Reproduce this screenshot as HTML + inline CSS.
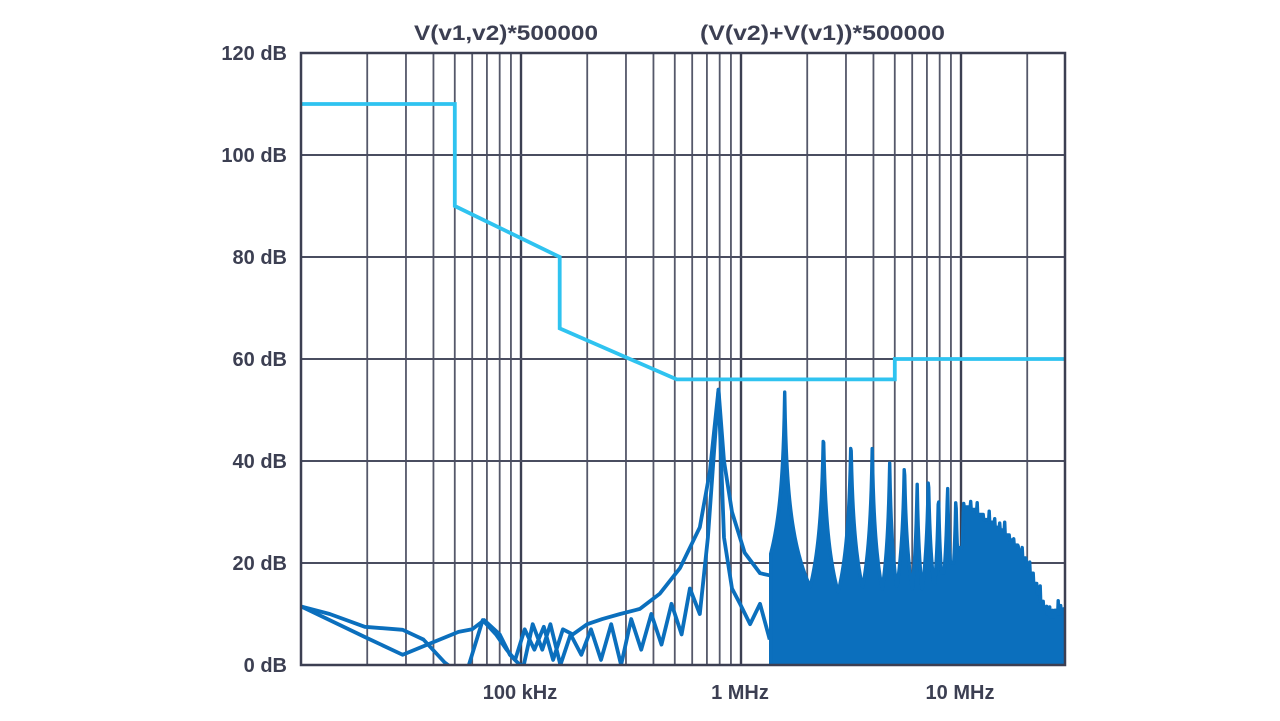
<!DOCTYPE html>
<html><head><meta charset="utf-8"><style>
html,body{margin:0;padding:0;background:#fff;}
svg{display:block;}
text{font-family:"Liberation Sans",sans-serif;font-weight:bold;fill:#3c3f52;}
</style></head><body>
<svg id="chart" width="1280" height="721" viewBox="0 0 1280 721" xmlns="http://www.w3.org/2000/svg">
<g id="grid"></g>
<g id="limit"></g>
<g id="traces"></g>
<rect x="301" y="53" width="764" height="612" fill="none" stroke="#3c3f52" stroke-width="2.5"/>
<g id="labels"></g>
<text x="414" y="40" font-size="21" textLength="184" lengthAdjust="spacingAndGlyphs">V(v1,v2)*500000</text>
<text x="700" y="40" font-size="21" textLength="245" lengthAdjust="spacingAndGlyphs">(V(v2)+V(v1))*500000</text>
</svg>
<script>
// ---- data ----
const yTicks = [0,20,40,60,80,100,120];
const yTickLabels = ["0 dB","20 dB","40 dB","60 dB","80 dB","100 dB","120 dB"];
const xTickFreqs = [100e3,1e6,10e6];
const xTickLabels = ["100 kHz","1 MHz","10 MHz"];
// limit mask (Hz, dB)
const limitFreqs = [10e3,50e3,50e3,150e3,150e3,510e3,5e6,5e6,30e6];
const limitDb    = [110,110,90,80,66,56,56,60,60];
// low-frequency trace A (Hz, dB)
const traceAFreqs = [10e3,13.5e3,19.5e3,29e3,36e3,45e3,50e3, 57e3,67e3,77e3,86e3,94e3,104e3,115e3,127e3,140e3,155e3,172e3,200e3,234e3,282e3,347e3,428e3,528e3,650e3,722e3,790e3,837e3,910e3,1.04e6,1.22e6,1.38e6,1.47e6];
const traceADb    = [11.5,10,7.5,6.9,5,0.5,-2, -2,8.8,6,3,1,7,3,7.5,1,7,6,8,9,10,11,14,19,27,38,54,40,30,22,18,17.5,22];
// low-frequency trace B
const traceBFreqs = [10e3,19.5e3,29e3,39e3,52e3,60e3,68e3,80e3,89e3,99e3,103e3,113e3,125e3,136e3,151e3,168e3,188e3,208e3,231e3,257e3,285e3,317e3,352e3,391e3,435e3,483e3,537e3,586e3,650e3,707e3,790e3,837e3,910e3,990e3,1.1e6,1.22e6,1.35e6];
const traceBDb    = [11.5,5.5,2,4.3,6.5,7,8.8,6,2,0,0,8,3,8,0,6,2,7,1,8,0,9,3,10,4,12,6,15,10,25,54,25,15,12,8,12,5];
// harmonic series: fundamental and peak amplitudes n=2..38
const fundamental = 0.79e6;
const harmonicPeaks = [53.5,46.5,45,43,40,40.5,36,38,34.5,36,34,33.5,33,32,31,30.5,29.5,29,28,27,26,25,24,22.5,21,19,17,15.5,14,13,12.5,12.5,13,13,13.5,13.5,13.5];
const noiseHigh = [11,12,12,12,13,14,15,16,18,20,23,31,30.5,29.5,28.5,28,27,26.5,25.5,24.5,23.5,22.5,21,19.5,18,16,14,12.5,11,10,9.5,9.5,10,10,10.5,10.5,10.5];

// ---- axes ----
const L=301,R=1065,T=53,B=665;
const fMin=10e3, pxPerDec=220;
const xs = f => L + pxPerDec*Math.log10(f/fMin);
const ys = d => B - (d/120)*(B-T);
const NS="http://www.w3.org/2000/svg";
function mk(tag, parent){const e=document.createElementNS(NS,tag);parent.appendChild(e);return e;}
const grid=document.getElementById('grid');
for(let dec=1e4; dec<=1e7; dec*=10){
  for(let m=1;m<=9;m++){
    const f=dec*m; const x=xs(f); if(x<=L+1||x>=R-1) continue;
    const ln=mk('line',grid);
    
    
    ln.setAttribute('x1',x);ln.setAttribute('x2',x);ln.setAttribute('y1',T);ln.setAttribute('y2',B);
    ln.setAttribute('stroke', m===1?'#3c3f52':'#55586a');ln.setAttribute('stroke-width', m===1?2.4:1.8);
  }
}
yTicks.forEach((d,i)=>{
  const y=ys(d);
  const ln=mk('line',grid);
  
  
  ln.setAttribute('x1',L);ln.setAttribute('x2',R);ln.setAttribute('y1',y);ln.setAttribute('y2',y);
  ln.setAttribute('stroke','#4a4d60');ln.setAttribute('stroke-width',2);
  const t=mk('text',document.getElementById('labels'));
  
  
  t.setAttribute('x',287);t.setAttribute('y',y+7);t.setAttribute('text-anchor','end');t.setAttribute('font-size','20');
  t.textContent=yTickLabels[i];
});
xTickFreqs.forEach((f,i)=>{
  const t=mk('text',document.getElementById('labels'));
  
  
  t.setAttribute('x',xs(f)-1);t.setAttribute('y',699);t.setAttribute('text-anchor','middle');t.setAttribute('font-size','20');
  t.textContent=xTickLabels[i];
});
// clip
const defs=mk('defs',document.getElementById('chart'));
const cp=mk('clipPath',defs);cp.setAttribute('id','plotclip');
const cr=mk('rect',cp);cr.setAttribute('x',L);cr.setAttribute('y',T);cr.setAttribute('width',R-L);cr.setAttribute('height',B-T+1);
const traces=document.getElementById('traces');traces.setAttribute('clip-path','url(#plotclip)');

// limit
const lp=mk('polyline',document.getElementById('limit'));


lp.setAttribute('points',limitFreqs.map((f,i)=>xs(f).toFixed(1)+','+ys(limitDb[i]).toFixed(1)).join(' '));
lp.setAttribute('fill','none');lp.setAttribute('stroke','#2fc3f0');lp.setAttribute('stroke-width',3.8);lp.setAttribute('stroke-linejoin','miter');

const BLUE='#0b6fbd';
function drawTrace(fs,ds,name){
  const p=mk('polyline',traces);
  
  
  p.setAttribute('points',fs.map((f,i)=>xs(f).toFixed(1)+','+ys(Math.max(ds[i],-1)).toFixed(1)).join(' '));
  p.setAttribute('fill','none');p.setAttribute('stroke',BLUE);p.setAttribute('stroke-width',3.8);p.setAttribute('stroke-linejoin','round');
}
drawTrace(traceAFreqs,traceADb,'trace-common-mode');
drawTrace(traceBFreqs,traceBDb,'trace-differential-mode');

// harmonic band: filled area from 0 dB up to max(spike, noise level)
const hx = harmonicPeaks.map((_,i)=>xs(fundamental*(i+2)));
let pts=[xs(fundamental*2)-14+','+ys(-1)];
for(let x=hx[0]-14; x<=R+2; x+=0.5){
  let v=0;
  hx.forEach((px,i)=>{ const s=harmonicPeaks[i]-26*Math.log10(1+Math.abs(x-px)/0.9); if(s>v)v=s; });
  let seg=0; for(let i=0;i<hx.length;i++){ if(x>=hx[i]) seg=i; }
  v=Math.max(v, noiseHigh[seg]);
  pts.push(x.toFixed(1)+','+ys(v).toFixed(1));
}
pts.push((R+2)+','+ys(-1));
const hb=mk('polygon',traces);


hb.setAttribute('points',pts.join(' '));
hb.setAttribute('fill',BLUE);hb.setAttribute('stroke',BLUE);hb.setAttribute('stroke-width',3.4);hb.setAttribute('stroke-linejoin','round');
</script>
</body></html>
